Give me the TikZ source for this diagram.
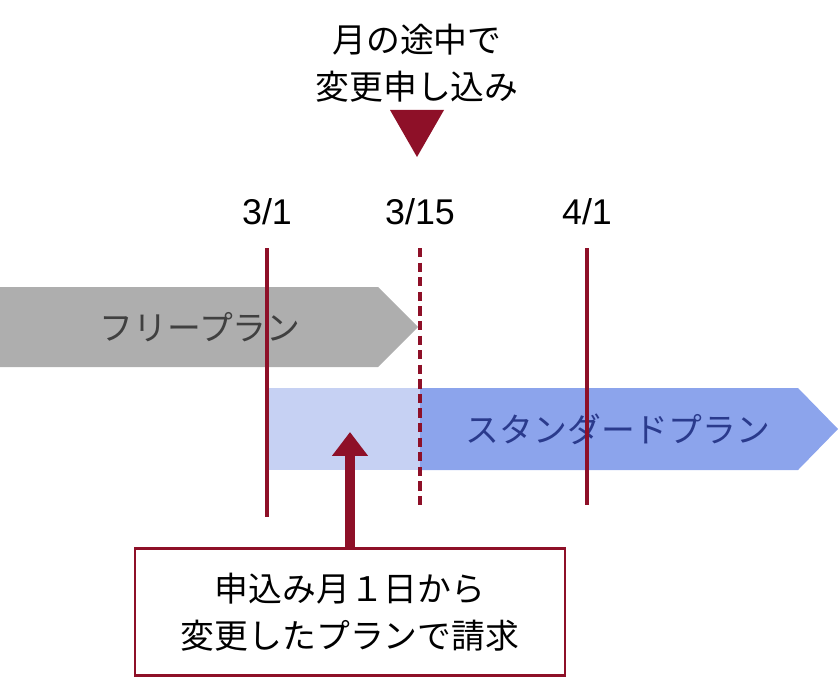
\documentclass[tikz,border=0pt]{standalone}
\usepackage{fontspec}
\setmainfont{Liberation Sans}
\newfontfamily\jpfont{Noto Sans CJK JP}
\usetikzlibrary{arrows.meta}
\definecolor{wine}{HTML}{8E1028}
\definecolor{freegray}{HTML}{AEAEAE}
\definecolor{stdblue}{HTML}{8CA4EC}
\definecolor{paleblue}{HTML}{C6D1F3}
\definecolor{stdtext}{HTML}{2A3A8C}
\tikzset{
  lbl/.style={font=\jpfont\fontsize{25.5}{35}\selectfont, align=center},
  datelbl/.style={font=\fontsize{27}{32}\selectfont},
  dayline/.style={wine, line width=3.5pt}
}
\begin{document}
\begin{tikzpicture}[x=0.0265cm,y=-0.0265cm]
   \useasboundingbox (0,0) rectangle (839,677);
   % plans
   \fill[freegray] (0,287) -- (378,287) -- (418,327) -- (378,367) -- (0,367) -- cycle;
   \fill[paleblue] (267,388) rectangle (420,470);
   \fill[stdblue] (420,388) -- (798,388) -- (838,429) -- (798,470) -- (420,470) -- cycle;
   \node[lbl, text=black!75] (free) at (200,327) {フリープラン};
   \node[lbl, text=stdtext] (std) at (618,429) {スタンダードプラン};
   % dates
   \node[datelbl] (d1) at (267,212) {3/1};
   \node[datelbl] (d15) at (420,212) {3/15};
   \node[datelbl] (d41) at (587,212) {4/1};
   \draw[dayline] (267,248) -- (267,517);
   \draw[dayline, line width=2.5pt, dash pattern=on 7pt off 4pt] (420,248) -- (420,505);
   \draw[dayline] (587,248) -- (587,505);
   % change request
   \node[lbl] (change) at (417,63) {月の途中で\\変更申し込み};
   \fill[wine] (390,110) -- (444,110) -- (417,157) -- cycle;
   % billing note
   \node[lbl, draw=wine, line width=2pt, minimum width=430*0.0265cm, minimum height=127*0.0265cm] (note) at (350,612) {申込み月１日から\\変更したプランで請求};
   \coordinate (hit) at (350,432);
   \draw[wine, line width=8pt, -{Triangle[length=18pt,width=26pt]}] (note.north) -- (hit);
\end{tikzpicture}
\end{document}
